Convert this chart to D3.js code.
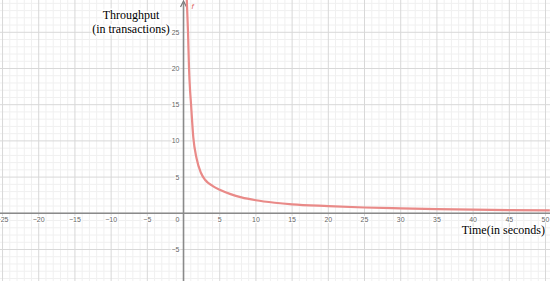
<!DOCTYPE html>
<html><head><meta charset="utf-8">
<script src="https://cdn.jsdelivr.net/npm/d3@7"></script>
<style>html,body{margin:0;padding:0;background:#fff;overflow:hidden}</style>
</head><body><svg id="c" width="550" height="281"></svg>
<script>
// Curve points (time in seconds, throughput)
const timeValues = [0.45, 0.62, 0.76, 0.9, 1.0, 1.35, 1.8, 2.4, 3.0, 4.0, 5.0, 6.5, 8, 10, 12.6, 15, 20, 25, 30, 35, 40, 45, 50.6];
const throughputValues = [29.5, 25, 20, 17, 15.6, 10.5, 7.6, 5.6, 4.6, 3.8, 3.25, 2.65, 2.2, 1.8, 1.46, 1.24, 1.0, 0.8, 0.68, 0.58, 0.5, 0.44, 0.4];
const xTickValues = [-25, -20, -15, -10, -5, 5, 10, 15, 20, 25, 30, 35, 40, 45, 50];
const yTickValues = [-5, 5, 10, 15, 20, 25];
const yTitleLines = ["Throughput", "(in transactions)"];
const xTitle = "Time(in seconds)";
const seriesName = "f";

const W = 550, H = 281;
const svg = d3.select("#c");
const x = d3.scaleLinear().domain([-25.35, 50.62]).range([0, W]);
const y = d3.scaleLinear().domain([-9.35, 29.46]).range([H, 0]);

const g = svg.append("g");
g.selectAll(".vx").data(d3.range(-26, 52, 1).filter(d => d % 5 !== 0)).join("line")
  .attr("x1", d => x(d)).attr("x2", d => x(d)).attr("y1", 0).attr("y2", H)
  .attr("stroke", "#f0f0f0").attr("stroke-width", 1);
g.selectAll(".hy").data(d3.range(-10, 31, 1).filter(d => d % 5 !== 0)).join("line")
  .attr("y1", d => y(d)).attr("y2", d => y(d)).attr("x1", 0).attr("x2", W)
  .attr("stroke", "#f0f0f0").attr("stroke-width", 1);
g.selectAll(".vx5").data(d3.range(-25, 51, 5)).join("line")
  .attr("x1", d => x(d)).attr("x2", d => x(d)).attr("y1", 0).attr("y2", H)
  .attr("stroke", "#d8d8d8");
g.selectAll(".hy5").data(d3.range(-5, 30, 5)).join("line")
  .attr("y1", d => y(d)).attr("y2", d => y(d)).attr("x1", 0).attr("x2", W)
  .attr("stroke", "#d8d8d8");

// axes lines
svg.append("line").attr("x1", 0).attr("x2", W).attr("y1", y(0)).attr("y2", y(0))
  .attr("stroke", "#8a8a8a").attr("stroke-width", 1.6);
svg.append("line").attr("x1", x(0)).attr("x2", x(0)).attr("y1", 3).attr("y2", H)
  .attr("stroke", "#8a8a8a").attr("stroke-width", 1.6);
svg.append("path").attr("d", `M${x(0)-3},${7} L${x(0)},${1} L${x(0)+3},${7}`)
  .attr("fill", "none").attr("stroke", "#777").attr("stroke-width", 1.2);

// tick labels
const lab = svg.append("g").attr("font-family", "Arial, 'Liberation Sans', sans-serif")
  .attr("font-size", 7).attr("fill", "#666");
lab.selectAll(".xt").data(xTickValues).join("text")
  .attr("x", d => x(d)).attr("y", y(0) + 8.5).attr("text-anchor", "middle")
  .attr("stroke", "#fff").attr("stroke-width", 2).attr("paint-order", "stroke")
  .text(d => d < 0 ? "\u2212" + Math.abs(d) : d);
lab.selectAll(".yt").data(yTickValues).join("text")
  .attr("x", x(0) - 4).attr("y", d => y(d) + 2.5).attr("text-anchor", "end")
  .attr("stroke", "#fff").attr("stroke-width", 2).attr("paint-order", "stroke")
  .text(d => d < 0 ? "\u2212" + Math.abs(d) : d);
lab.append("text").attr("x", x(0) - 4).attr("y", y(0) + 8.5).attr("text-anchor", "end").text("0");

// curve
const pts = timeValues.map((t, i) => [t, throughputValues[i]]);
const line = d3.line().x(d => x(d[0])).y(d => y(d[1])).curve(d3.curveMonotoneX);
svg.append("path").datum(pts).attr("d", line)
  .attr("fill", "none").attr("stroke", "#e98a88").attr("stroke-width", 2.2);
svg.append("text").attr("x", x(0) + 8).attr("y", 9).attr("font-family", "Arial, sans-serif")
  .attr("font-size", 8).attr("font-style", "italic").attr("fill", "#e06a66").text(seriesName);

// titles
const tt = svg.append("g").attr("font-family", "'Liberation Serif', 'Times New Roman', serif")
  .attr("fill", "#000");
tt.selectAll(".yl").data(yTitleLines).join("text")
  .attr("x", 131).attr("y", (d, i) => 19 + i * 14).attr("text-anchor", "middle")
  .attr("font-size", 12).attr("stroke", "#fff").attr("stroke-width", 3).attr("paint-order", "stroke")
  .text(d => d);
tt.append("text").attr("x", 545).attr("y", 234).attr("text-anchor", "end")
  .attr("font-size", 12).attr("stroke", "#fff").attr("stroke-width", 2).attr("paint-order", "stroke")
  .text(xTitle);
</script></body></html>
